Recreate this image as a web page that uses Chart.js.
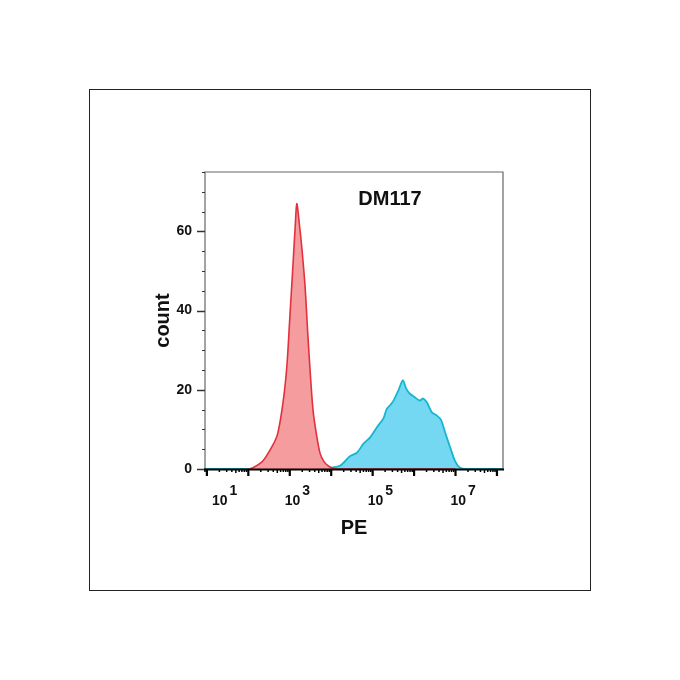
<!DOCTYPE html>
<html>
<head>
<meta charset="utf-8">
<title>DM117 PE histogram</title>
<script src="https://cdn.jsdelivr.net/npm/chart.js@4.4.1/dist/chart.umd.min.js"></script>
<style>
  body { margin: 0; background: #fff; }
  canvas { display: block; }
</style>
</head>
<body>
<canvas id="chart" width="680" height="680"></canvas>
<script>
// --- DATA (PE read as log10 exponents, count per bin) ---
const redLogPE = [2.0, 2.11, 2.35, 2.59, 2.71, 2.84, 2.93, 3.00, 3.08, 3.13, 3.17, 3.23, 3.29, 3.37, 3.43, 3.49, 3.56, 3.64, 3.73, 3.83, 3.97, 4.12, 7.0];
const redCount = [0, 0.3, 2, 6, 9, 17, 26, 38, 52, 61, 67, 62, 56, 46, 35, 25, 15, 9, 4, 1.8, 0.5, 0, 0];

const blueLogPE = [0.95, 3.8, 3.97, 4.21, 4.45, 4.62, 4.78, 4.94, 5.10, 5.26, 5.34, 5.42, 5.50, 5.62, 5.73, 5.81, 5.90, 6.02, 6.14, 6.22, 6.31, 6.43, 6.55, 6.65, 6.75, 6.87, 6.99, 7.11, 7.25, 8.14];
const blueCount = [0, 0, 0.3, 0.8, 3.2, 4.1, 6.4, 8, 10.5, 12.8, 15.2, 16.1, 17.2, 19.8, 22.4, 20.3, 19, 18.1, 17.3, 17.8, 16.8, 14.3, 13.5, 12.4, 9.2, 5.5, 2, 0.3, 0, 0];

const yTickLabels = [0, 20, 40, 60];
const xLabelExps = [1, 3, 5, 7];
const sampleName = "DM117";

const FONT = "'Liberation Sans', Arial, sans-serif";
Chart.defaults.font.family = FONT;

function toPoints(logs, counts) {
    return logs.map((e, i) => ({ x: Math.pow(10, e), y: counts[i] }));
}

// --- FRAME, TICKS, LABELS ---
const decorations = {
    id: "decorations",
    beforeDraw(chart) {
        const ctx = chart.ctx;
        ctx.save();
        ctx.strokeStyle = "#222";
        ctx.lineWidth = 1;
        ctx.strokeRect(89.5, 89.5, 501, 501);
        ctx.restore();
    },
    afterDraw(chart) {
        const { ctx, chartArea: a, scales: { x, y } } = chart;
        ctx.save();

        // frame
        ctx.strokeStyle = "#666";
        ctx.lineWidth = 1.2;
        ctx.beginPath();
        ctx.moveTo(a.left, a.bottom);
        ctx.lineTo(a.left, a.top);
        ctx.lineTo(a.right, a.top);
        ctx.lineTo(a.right, a.bottom);
        ctx.stroke();

        // y ticks
        ctx.strokeStyle = "#333";
        for (let v = 0; v <= y.max; v += 5) {
            const py = Math.round(y.getPixelForValue(v)) + 0.5;
            const len = v % 20 === 0 ? 8 : 3;
            ctx.lineWidth = v % 20 === 0 ? 1.5 : 1;
            ctx.beginPath();
            ctx.moveTo(a.left - len, py);
            ctx.lineTo(a.left, py);
            ctx.stroke();
        }

        // x ticks (log decades + minors)
        ctx.strokeStyle = "#000";
        for (let d = 0; d <= 8; d++) {
            for (let m = 1; m <= 9; m++) {
                const v = m * Math.pow(10, d);
                if (v < x.min || v > x.max) continue;
                const px = x.getPixelForValue(v);
                const len = m === 1 ? 7 : (m === 5 ? 4 : 3);
                ctx.lineWidth = m === 1 ? 2.2 : 1.5;
                ctx.beginPath();
                ctx.moveTo(px, a.bottom);
                ctx.lineTo(px, a.bottom + len);
                ctx.stroke();
            }
        }

        // bottom axis line
        ctx.lineWidth = 2;
        ctx.beginPath();
        ctx.moveTo(a.left - 1, a.bottom + 0.5);
        ctx.lineTo(a.right + 1, a.bottom + 0.5);
        ctx.stroke();

        // x tick labels 10^n
        ctx.fillStyle = "#111";
        ctx.textBaseline = "alphabetic";
        ctx.textAlign = "left";
        xLabelExps.forEach(e => {
            const px = x.getPixelForValue(Math.pow(10, e));
            const start = e === 1 ? px + 5 : px - 5;
            ctx.font = "bold 14px " + FONT;
            ctx.fillText("10", start, 505);
            const w = ctx.measureText("10").width;
            ctx.font = "bold 14px " + FONT;
            ctx.fillText(String(e), start + w + 2, 495);
        });

        // sample name
        ctx.font = "bold 20px " + FONT;
        ctx.textAlign = "center";
        ctx.textBaseline = "middle";
        ctx.fillText(sampleName, 390, 199);

        ctx.restore();
    }
};

// --- CHART ---
const ctx = document.getElementById("chart").getContext("2d");
new Chart(ctx, {
    type: "line",
    data: {
        datasets: [
            {
                label: "DM117",
                data: toPoints(redLogPE, redCount),
                borderColor: "#e2313c",
                backgroundColor: "#f59c9f",
                borderWidth: 1.6,
                fill: "origin",
                pointRadius: 0,
                tension: 0.3
            },
            {
                label: "control",
                data: toPoints(blueLogPE, blueCount),
                borderColor: "#16b6d0",
                backgroundColor: "#74d8f3",
                borderWidth: 1.8,
                fill: "origin",
                pointRadius: 0,
                tension: 0.3
            }
        ]
    },
    options: {
        responsive: false,
        animation: false,
        layout: { padding: { left: 145, right: 177, top: 172, bottom: 136 } },
        plugins: {
            legend: { display: false },
            tooltip: { enabled: false }
        },
        scales: {
            x: {
                type: "logarithmic",
                min: 9,
                max: 1.4e8,
                grid: { display: false },
                border: { display: false },
                ticks: { display: false },
                title: {
                    display: true,
                    text: "PE",
                    color: "#111",
                    font: { size: 20, weight: "bold" },
                    padding: { top: 4, bottom: 4 }
                },
                afterFit: s => { s.height = 75; }
            },
            y: {
                min: 0,
                max: 75,
                grid: { display: false, drawTicks: false },
                border: { display: false },
                ticks: {
                    stepSize: 5,
                    autoSkip: false,
                    padding: 13,
                    color: "#111",
                    font: { size: 14, weight: "bold" },
                    callback: v => yTickLabels.includes(v) ? v : ""
                },
                title: {
                    display: true,
                    text: "count",
                    color: "#111",
                    font: { size: 20, weight: "bold" },
                    padding: { top: 6, bottom: 4 }
                },
                afterFit: s => { s.width = 60; }
            }
        }
    },
    plugins: [decorations]
});
</script>
</body>
</html>
